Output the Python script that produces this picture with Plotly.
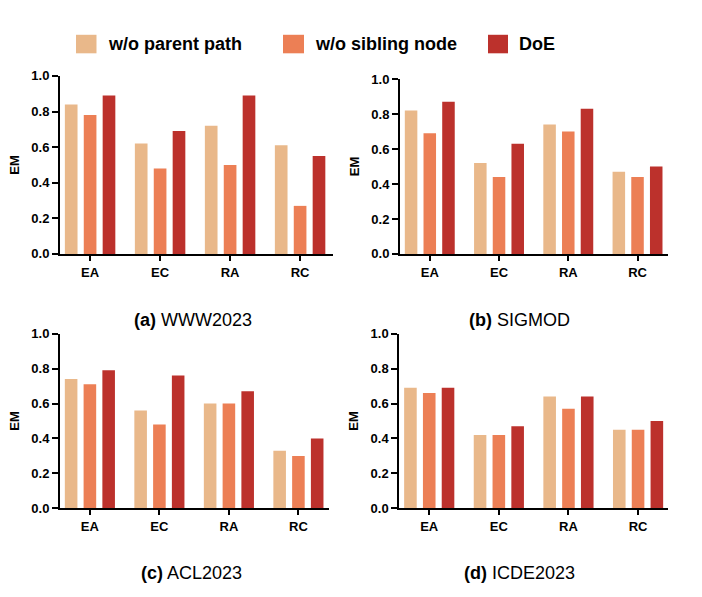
import plotly.graph_objects as go

categories = ["EA", "EC", "RA", "RC"]
series_names = ["w/o parent path", "w/o sibling node", "DoE"]
colors = ["#E9B88A", "#EC7F55", "#BC312C"]

www_parent = [0.84, 0.62, 0.72, 0.61]
www_sibling = [0.78, 0.48, 0.50, 0.27]
www_doe = [0.89, 0.69, 0.89, 0.55]

sigmod_parent = [0.82, 0.52, 0.74, 0.47]
sigmod_sibling = [0.69, 0.44, 0.70, 0.44]
sigmod_doe = [0.87, 0.63, 0.83, 0.50]

acl_parent = [0.74, 0.56, 0.60, 0.33]
acl_sibling = [0.71, 0.48, 0.60, 0.30]
acl_doe = [0.79, 0.76, 0.67, 0.40]

icde_parent = [0.69, 0.42, 0.64, 0.45]
icde_sibling = [0.66, 0.42, 0.57, 0.45]
icde_doe = [0.69, 0.47, 0.64, 0.50]

panel_labels = [("(a)", "WWW2023"), ("(b)", "SIGMOD"), ("(c)", "ACL2023"), ("(d)", "ICDE2023")]
y_ticks = [0.0, 0.2, 0.4, 0.6, 0.8, 1.0]

panels = [
    [www_parent, www_sibling, www_doe],
    [sigmod_parent, sigmod_sibling, sigmod_doe],
    [acl_parent, acl_sibling, acl_doe],
    [icde_parent, icde_sibling, icde_doe],
]

W, H = 702, 597
# pixel boxes: (x0, x1, ytop, ybottom, xrange_end)
boxes = [
    (60, 333, 70.7, 253.3, 3.47),
    (400, 668, 74, 253.3, 3.44),
    (60, 329, 335, 514.3, 3.44),
    (399.3, 668, 335, 514.3, 3.43),
]
title_pos = [(193, 321), (519, 321), (191, 581), (519, 581)]

fig = go.Figure()
FONT = "Liberation Sans, Arial, sans-serif"

for i, (vals, box) in enumerate(zip(panels, boxes)):
    ax = "" if i == 0 else str(i + 1)
    for s, (name, col, v) in enumerate(zip(series_names, colors, vals)):
        fig.add_trace(go.Bar(
            x=categories, y=v, name=name, marker_color=col,
            marker_line_width=0, showlegend=False,
            xaxis="x" + ax, yaxis="y" + ax,
        ))
    x0, x1, yt, yb, xend = box
    fig.layout["xaxis" + ax] = dict(
        domain=[x0 / W, x1 / W], anchor="y" + ax,
        range=[-0.43, xend], showline=True, linecolor="black", linewidth=2,
        ticks="outside", ticklen=5, tickwidth=2, tickcolor="black",
        showgrid=False, zeroline=False,
        tickfont=dict(family=FONT, size=13, color="black", weight="bold"),
    )
    fig.layout["yaxis" + ax] = dict(
        domain=[1 - yb / H, 1 - yt / H], anchor="x" + ax,
        range=[0, 1.0], showline=True, linecolor="black", linewidth=2,
        ticks="outside", ticklen=6, tickwidth=2, tickcolor="black",
        tickvals=y_ticks, ticktext=[f"{t:.1f}" for t in y_ticks],
        showgrid=False, zeroline=False,
        tickfont=dict(family=FONT, size=13, color="black", weight="bold"),
        title=dict(text="<b>EM</b>", font=dict(family=FONT, size=13, color="black"), standoff=9),
    )
    bold, rest = panel_labels[i]
    tx, ty = title_pos[i]
    fig.add_annotation(
        x=tx / W, y=1 - ty / H, xref="paper", yref="paper",
        text=f"<b>{bold}</b> {rest}", showarrow=False,
        font=dict(family=FONT, size=18, color="black"),
        xanchor="center", yanchor="middle",
    )

# custom legend
leg_sq = [(76, 96.5), (283, 304), (488, 508)]
leg_tx = [106, 313, 517]
for (sx0, sx1), tx, name, col in zip(leg_sq, leg_tx, series_names, colors):
    fig.add_shape(type="rect", xref="paper", yref="paper",
                  x0=sx0 / W, x1=sx1 / W, y0=1 - 47.5 / H, y1=1 - 28.5 / H,
                  fillcolor=col, line_width=0)
    fig.add_annotation(x=tx / W, y=1 - 38 / H, xref="paper", yref="paper",
                       text=f"<b>{name}</b>", showarrow=False,
                       font=dict(family=FONT, size=18, color="black"),
                       xanchor="left", yanchor="middle")

fig.update_layout(
    width=W, height=H, margin=dict(l=0, r=0, t=0, b=0),
    paper_bgcolor="white", plot_bgcolor="white",
    barmode="group", bargap=0.19, bargroupgap=0.33,
    showlegend=False,
)

fig.write_html("out.html")
